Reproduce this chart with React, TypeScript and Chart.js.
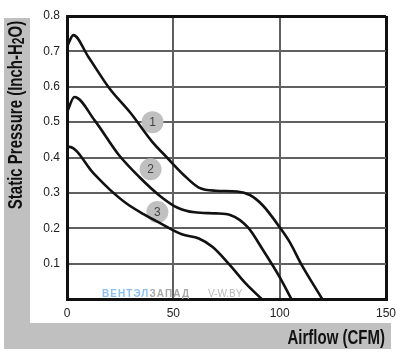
import { useEffect, useRef } from 'react';
import { Chart, registerables } from 'chart.js';

Chart.register(...registerables);

// Curve 1
const curve1Flow = [0, 3, 10, 20, 30, 40, 47, 55, 62, 70, 80, 86, 92, 100, 105, 110, 120];
const curve1Pressure = [0.713, 0.746, 0.685, 0.595, 0.525, 0.445, 0.4, 0.35, 0.315, 0.306, 0.304, 0.294, 0.265, 0.203, 0.158, 0.1, 0];
// Curve 2
const curve2Flow = [0, 3.5, 13, 24, 34, 44, 52, 60, 70, 77, 85, 92, 100, 105.5];
const curve2Pressure = [0.528, 0.571, 0.505, 0.41, 0.345, 0.29, 0.258, 0.245, 0.242, 0.237, 0.203, 0.14, 0.062, 0];
// Curve 3
const curve3Flow = [0, 1, 12.5, 20, 28, 36, 44, 54, 62, 68.5, 76, 84, 91.5];
const curve3Pressure = [0.43, 0.43, 0.355, 0.31, 0.27, 0.24, 0.214, 0.183, 0.171, 0.147, 0.1, 0.044, 0];

const curveLabels = ['1', '2', '3'];
const labelFlow = [40.2, 39.3, 42.5];
const labelPressure = [0.5, 0.367, 0.246];

const xTickStep = 50;
const yTickStep = 0.1;
const xMax = 150;
const yMax = 0.8;

const yTitleMain = 'Static Pressure (Inch-H';
const yTitleSub = '2';
const yTitleEnd = 'O)';
const xTitle = 'Airflow (CFM)';
const watermarkBlue = 'ВЕНТЭЛ';
const watermarkGray = 'ЗАПАД';
const watermarkSite = 'V-W.BY';

const FONT = "'Liberation Sans', Arial, sans-serif";

function toPoints(xs: number[], ys: number[]) {
  return xs.map((x, i) => ({ x, y: ys[i] }));
}

const decorPlugin = {
  id: 'decor',
  beforeDraw(chart: any) {
    const ctx = chart.ctx as CanvasRenderingContext2D;
    ctx.save();
    ctx.fillStyle = '#ffffff';
    ctx.fillRect(0, 0, chart.width, chart.height);
    ctx.fillStyle = '#c0c0c0';
    ctx.fillRect(4, 18, 26, 331);
    ctx.fillRect(4, 323, 387, 26);
    ctx.restore();
  },
  beforeDatasetsDraw(chart: any) {
    const ctx = chart.ctx as CanvasRenderingContext2D;
    ctx.save();
    ctx.font = `bold 10px ${FONT}`;
    ctx.textBaseline = 'middle';
    ctx.textAlign = 'left';
    const full = watermarkBlue + watermarkGray;
    const w0 = ctx.measureText(full).width;
    const spacing = Math.max(0, (87 - w0) / (full.length - 1));
    (ctx as any).letterSpacing = `${spacing}px`;
    ctx.fillStyle = '#8fc0ea';
    ctx.fillText(watermarkBlue, 102, 294);
    const wb = ctx.measureText(watermarkBlue).width;
    ctx.fillStyle = '#a8a8a8';
    ctx.fillText(watermarkGray, 102 + wb, 294);
    (ctx as any).letterSpacing = '0px';
    ctx.font = `10px ${FONT}`;
    ctx.fillStyle = '#b8b8b8';
    ctx.fillText(watermarkSite, 208, 294);
    ctx.restore();
  },
  afterDatasetsDraw(chart: any) {
    const ctx = chart.ctx as CanvasRenderingContext2D;
    const meta = chart.getDatasetMeta(3);
    ctx.save();
    ctx.font = `12px ${FONT}`;
    ctx.fillStyle = '#444444';
    ctx.textAlign = 'center';
    ctx.textBaseline = 'middle';
    meta.data.forEach((el: any, i: number) => {
      ctx.fillText(curveLabels[i], el.x, el.y + 1);
    });
    ctx.restore();
  },
  afterDraw(chart: any) {
    const ctx = chart.ctx as CanvasRenderingContext2D;
    ctx.save();
    ctx.fillStyle = '#111111';
    // y title
    ctx.translate(16.5, 115);
    ctx.rotate(-Math.PI / 2);
    ctx.scale(1, 1.3);
    ctx.textBaseline = 'middle';
    ctx.textAlign = 'left';
    const mainFont = `bold 15px ${FONT}`;
    const subFont = `bold 12px ${FONT}`;
    ctx.font = mainFont;
    const w1 = ctx.measureText(yTitleMain).width;
    const w3 = ctx.measureText(yTitleEnd).width;
    ctx.font = subFont;
    const w2 = ctx.measureText(yTitleSub).width;
    const total = w1 + w2 + w3;
    let x = -total / 2;
    ctx.font = mainFont;
    ctx.fillText(yTitleMain, x, 0);
    x += w1;
    ctx.font = subFont;
    ctx.fillText(yTitleSub, x, 2.5);
    x += w2;
    ctx.font = mainFont;
    ctx.fillText(yTitleEnd, x, 0);
    ctx.restore();

    ctx.save();
    ctx.fillStyle = '#111111';
    ctx.translate(385, 339);
    ctx.scale(1, 1.3);
    ctx.font = `bold 15px ${FONT}`;
    ctx.textAlign = 'right';
    ctx.textBaseline = 'middle';
    ctx.fillText(xTitle, 0, 0);
    ctx.restore();
  },
};

const isEdge = (v: number, a: number, b: number) => Math.abs(v - a) < 1e-6 || Math.abs(v - b) < 1e-6;

export default function App() {
  const ref = useRef<HTMLCanvasElement | null>(null);
  useEffect(() => {
    if (!ref.current) return;
    const lineStyle = {
      showLine: true,
      pointRadius: 0,
      borderColor: '#111111',
      borderWidth: 2.6,
      cubicInterpolationMode: 'monotone' as const,
      fill: false,
    };
    const chart = new Chart(ref.current, {
      type: 'scatter',
      data: {
        datasets: [
          { ...lineStyle, label: '1', data: toPoints(curve1Flow, curve1Pressure) },
          { ...lineStyle, label: '2', data: toPoints(curve2Flow, curve2Pressure) },
          { ...lineStyle, label: '3', data: toPoints(curve3Flow, curve3Pressure) },
          {
            label: 'labels',
            data: toPoints(labelFlow, labelPressure),
            showLine: false,
            pointRadius: 11,
            pointHoverRadius: 11,
            backgroundColor: '#c0c0c0',
            borderWidth: 0,
          },
        ],
      },
      options: {
        animation: false,
        responsive: false,
        devicePixelRatio: 1,
        events: [],
        layout: { padding: { top: 16, right: 9, left: 0, bottom: 0 } },
        plugins: { legend: { display: false }, tooltip: { enabled: false } },
        scales: {
          x: {
            type: 'linear',
            min: 0,
            max: xMax,
            afterFit: (s: any) => {
              s.height = 56;
              s.paddingLeft = 0;
              s.paddingRight = 0;
            },
            ticks: {
              stepSize: xTickStep,
              font: { family: FONT, size: 12 },
              color: '#222222',
              padding: 7,
              maxRotation: 0,
              callback: (v: any) => String(v),
            },
            grid: {
              drawTicks: false,
              color: (c: any) => (isEdge(c.tick.value, 0, xMax) ? '#111111' : '#606060'),
              lineWidth: (c: any) => (isEdge(c.tick.value, 0, xMax) ? 3 : 2),
            },
            border: { display: true, color: '#111111', width: 3 },
          },
          y: {
            type: 'linear',
            min: 0,
            max: yMax,
            afterFit: (s: any) => {
              s.width = 67;
            },
            ticks: {
              stepSize: yTickStep,
              font: { family: FONT, size: 12 },
              color: '#222222',
              padding: 7,
              callback: (v: any) => (Math.abs(v) < 1e-6 ? '' : Number(v).toFixed(1)),
            },
            grid: {
              drawTicks: false,
              color: (c: any) => (isEdge(c.tick.value, 0, yMax) ? '#111111' : '#606060'),
              lineWidth: (c: any) => (isEdge(c.tick.value, 0, yMax) ? 3 : 2),
            },
            border: { display: true, color: '#111111', width: 3 },
          },
        },
      },
      plugins: [decorPlugin],
    });
    return () => chart.destroy();
  }, []);
  return (
    <div style={{ position: 'absolute', left: 0, top: 0, width: 397, height: 355 }}>
      <canvas ref={ref} width={397} height={355} style={{ display: 'block' }} />
    </div>
  );
}
